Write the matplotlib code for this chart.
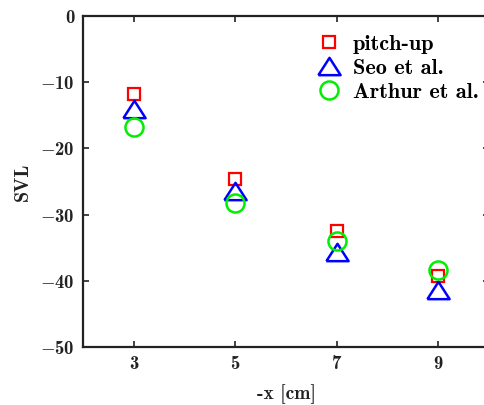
import matplotlib
matplotlib.use("Agg")
import matplotlib.pyplot as plt

plt.rcParams['mathtext.fontset'] = 'cm'
plt.rcParams['axes.unicode_minus'] = False

x = [3, 5, 7, 9]
pitch_up = [-11.8, -24.6, -32.5, -39.3]
seo = [-14.0, -26.4, -35.6, -41.4]
arthur = [-16.75, -28.2, -34.0, -38.4]
xticks = [3, 5, 7, 9]
yticks = [0, -10, -20, -30, -40, -50]

fig = plt.figure(figsize=(4.84, 4.05), dpi=100)
ax = fig.add_axes([83/484, 1-347/405, 406/484, (347-16)/405])

tri = [(-1, -0.78), (1, -0.78), (0, 0.78), (-1, -0.78)]
ax.plot(x, pitch_up, ls='none', marker='s', ms=8.6, mfc='none', mec='#ff0000', mew=1.6, label='pitch-up')
ax.plot(x, seo, ls='none', marker=tri, ms=16, mfc='none', mec='#0000ff', mew=1.8, label='Seo et al.')
ax.plot(x, arthur, ls='none', marker='o', ms=13, mfc='none', mec='#00ee00', mew=1.8, label='Arthur et al.')

ax.set_xlim(2, 10)
ax.set_ylim(-50, 0)
ax.set_xticks(xticks)
ax.set_yticks(yticks)
fs_tick = 13.5
ax.set_xticklabels([str(v) for v in xticks], family='cmb10', fontsize=fs_tick)
ax.set_yticklabels([(r'$-$' + str(abs(v))) if v < 0 else str(v) for v in yticks],
                   family='cmb10', fontsize=fs_tick)
ax.tick_params(direction='in', length=4, width=1.2, top=True, right=True, colors='#222222', pad=6)
for s in ax.spines.values():
    s.set_linewidth(1.6)
    s.set_color('#222222')

ax.set_xlabel('-x [cm]', fontsize=14, family='cmb10', labelpad=8, color='#222222')
ax.set_ylabel('SVL', fontsize=14.5, family='cmb10', labelpad=6, color='#222222')

leg = ax.legend(loc='upper left', bbox_to_anchor=(0.53, 1.005), frameon=False,
                prop={'family': 'cmb10', 'size': 16}, handlelength=1.0, handletextpad=0.55,
                labelspacing=0.2, numpoints=1)

fig.savefig('out.png', dpi=100)
